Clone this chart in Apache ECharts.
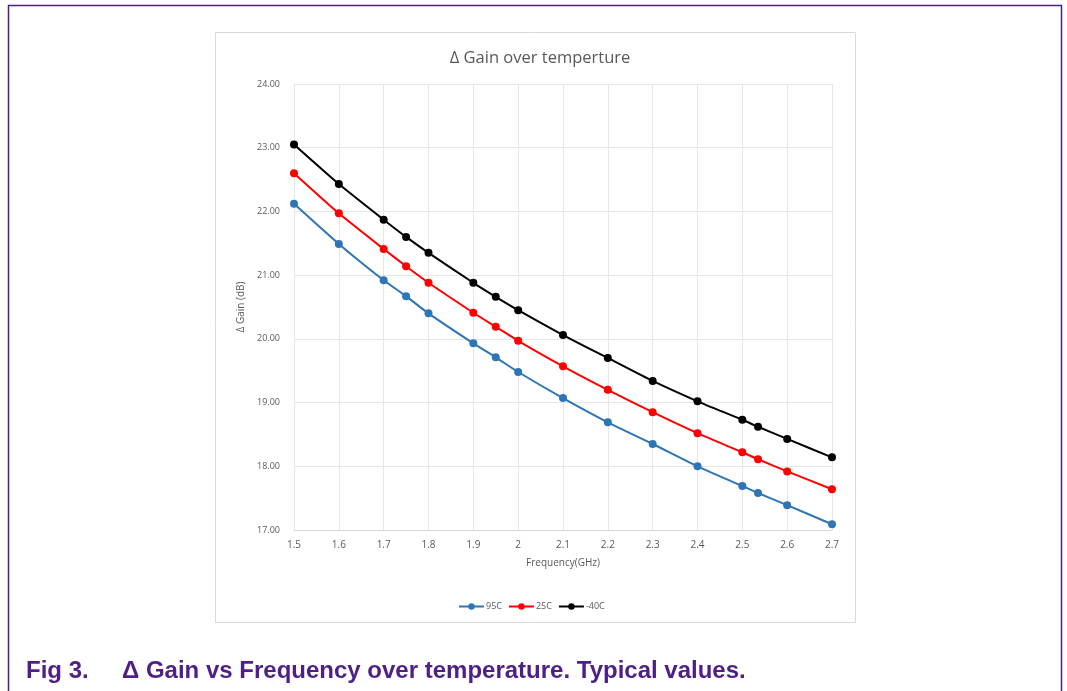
<!DOCTYPE html>
<html>
<head>
<meta charset="utf-8">
<style>
  html, body { margin: 0; padding: 0; background: #fff; }
  #main { width: 1067px; height: 691px; }
</style>
<script src="https://cdn.jsdelivr.net/npm/echarts@6/dist/echarts.min.js"></script>
</head>
<body>
<div id="main"></div>
<script>
// 频率点 (GHz)
var freq = [1.5, 1.6, 1.7, 1.75, 1.8, 1.9, 1.95, 2.0, 2.1, 2.2, 2.3, 2.4, 2.5, 2.535, 2.6, 2.7];
// 各温度下的增益 (dB)
var gain95 = [22.12, 21.49, 20.92, 20.67, 20.40, 19.93, 19.71, 19.48, 19.07, 18.69, 18.35, 18.00, 17.69, 17.58, 17.39, 17.09];
var gain25 = [22.60, 21.97, 21.41, 21.14, 20.88, 20.41, 20.19, 19.97, 19.57, 19.20, 18.85, 18.52, 18.22, 18.11, 17.92, 17.64];
var gainM40 = [23.05, 22.43, 21.87, 21.60, 21.35, 20.88, 20.66, 20.45, 20.06, 19.70, 19.34, 19.02, 18.73, 18.62, 18.43, 18.14];
var seriesNames = ['95C', '25C', '-40C'];
var seriesColors = ['#2E75B6', '#FF0000', '#000000'];

function pairs(ys) {
    return freq.map(function (f, i) { return [f, ys[i]]; });
}

var myChart = echarts.init(document.getElementById('main'));
var font = '"Open Sans", "Noto Sans", sans-serif';
var purple = '#4E1F87';
var capFont = 'bold 24px "Liberation Sans", Arial, sans-serif';

var option = {
    backgroundColor: '#fff',
    animation: false,
    graphic: [
        // 外框（紫色）
        { type: 'polyline', shape: { points: [[8.5, 691], [8.5, 5.5], [1061.5, 5.5], [1061.5, 691]] },
          style: { stroke: purple, lineWidth: 1.5, fill: null } },
        // 图表区域框
        { type: 'rect', shape: { x: 215.5, y: 32.5, width: 640, height: 590 },
          style: { stroke: '#D9D9D9', lineWidth: 1, fill: null }, z: -1 },
        // 图注
        { type: 'text', left: 26, top: 659,
          style: { text: 'Fig 3.', fill: purple, font: capFont } },
        { type: 'text', left: 122, top: 659,
          style: { text: '\u0394 Gain vs Frequency over temperature. Typical values.', fill: purple, font: capFont } }
    ],
    title: {
        text: '\u0394 Gain over temperture',
        left: 535, top: 45, textAlign: 'center',
        textStyle: { fontFamily: font, fontSize: 16.5, fontWeight: 'normal', color: '#595959' }
    },
    legend: {
        data: seriesNames,
        left: 453, top: 597,
        itemWidth: 25, itemHeight: 8, itemGap: 6,
        textStyle: { fontFamily: font, fontSize: 9, color: '#595959', padding: [0, 0, 0, -3] }
    },
    grid: { left: 294, right: 235, top: 84, bottom: 161 },
    xAxis: {
        type: 'value',
        min: 1.5, max: 2.7, interval: 0.1,
        name: 'Frequency(GHz)', nameLocation: 'middle', nameGap: 28,
        nameTextStyle: { fontFamily: font, fontSize: 10, color: '#595959' },
        axisLine: { show: true, lineStyle: { color: '#D9D9D9' } },
        axisTick: { show: false },
        axisLabel: { fontFamily: font, fontSize: 10, color: '#595959', margin: 10,
                     formatter: function (v) { return String(Math.round(v * 10) / 10); } },
        splitLine: { show: true, lineStyle: { color: '#E6E6E6' } }
    },
    yAxis: {
        type: 'value',
        min: 17, max: 24, interval: 1,
        name: '\u0394 Gain (dB)', nameLocation: 'middle', nameGap: 48,
        nameTextStyle: { fontFamily: font, fontSize: 10, color: '#595959' },
        axisLine: { show: false },
        axisTick: { show: false },
        axisLabel: { fontFamily: font, fontSize: 9, color: '#595959', margin: 14,
                     formatter: function (v) { return v.toFixed(2); } },
        splitLine: { show: true, lineStyle: { color: '#E6E6E6' } }
    },
    series: [gain95, gain25, gainM40].map(function (ys, i) {
        return {
            name: seriesNames[i],
            type: 'line',
            data: pairs(ys),
            smooth: 0.2,
            symbol: 'circle',
            symbolSize: 8,
            color: seriesColors[i],
            lineStyle: { width: 2, color: seriesColors[i] },
            itemStyle: { color: seriesColors[i] }
        };
    })
};

myChart.setOption(option);
</script>
</body>
</html>
